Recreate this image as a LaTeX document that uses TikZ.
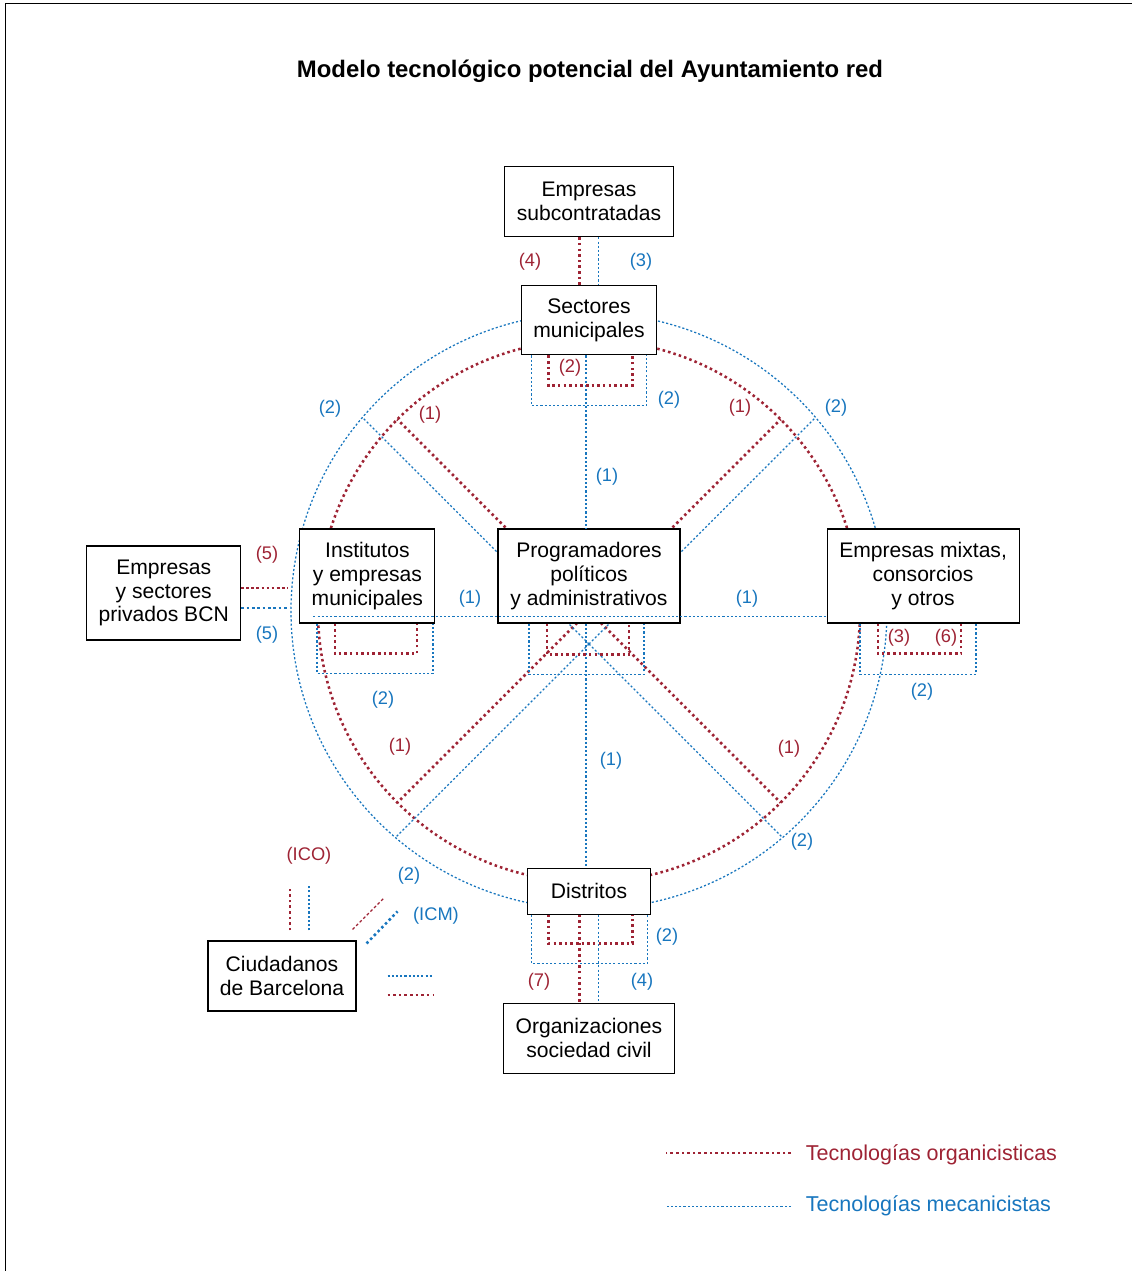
\documentclass[tikz,border=0pt]{standalone}
\usepackage{fontspec}
\setmainfont{Liberation Sans}
\usetikzlibrary{positioning}
\definecolor{rojo}{RGB}{158,35,52}
\definecolor{azul}{RGB}{24,118,190}

\begin{document}
\begin{tikzpicture}[
    caja/.style={draw, line width=0.8pt, fill=white, align=center, inner sep=2pt,
                 font=\fontsize{15}{17}\selectfont},
    org/.style={rojo, line width=1.8pt, dash pattern=on 1.8pt off 2.2pt},
    mec/.style={azul, line width=0.9pt, dash pattern=on 1.5pt off 1.5pt},
    orgfina/.style={rojo, line width=0.9pt, dash pattern=on 2pt off 1.6pt},
    mecgruesa/.style={azul, line width=1.8pt, dash pattern=on 1.8pt off 2pt},
    etqorg/.style={rojo, font=\fontsize{13}{15}\selectfont},
    etqmec/.style={azul, font=\fontsize{13}{15}\selectfont},
  ]
  \useasboundingbox (-14.725,-16.5) rectangle (13.55,15.275);
  % Cornice e titolo
  \draw[line width=0.7pt] (-14.6,-16.8) -- (-14.6,15.2) -- (13.8,15.2);
  \node[font=\bfseries\fontsize{17}{20}\selectfont] (titolo) at (0.025,13.5)
    {Modelo tecnológico potencial del Ayuntamiento red};

  % Cerchi e diagonali (sotto i riquadri)
  \coordinate (centro) at (0,0);
  \coordinate (centroazul) at (0,-0.825);
  \draw[mec] (centro) circle (7.45);
  \draw[org] (centro) circle (6.775);
  \draw[org] (centro) -- (45:6.775);
  \draw[org] (centro) -- (135:6.775);
  \draw[org] (centro) -- (225:6.775);
  \draw[org] (centro) -- (315:6.775);
  \draw[mec] (centroazul) -- (40.5:7.45);
  \draw[mec] (centroazul) -- (139.5:7.45);
  \draw[mec] (centroazul) -- (-49.5:7.45);
  \draw[mec] (centroazul) -- (-130.5:7.45);

  % Riquadri principali
  \node[caja, minimum width=4.55cm, minimum height=2.35cm] (prog) at (0,0.875)
    {Programadores\\políticos\\y administrativos};
  \node[caja, minimum width=3.375cm, minimum height=1.725cm, above=4.325cm of prog] (sect)
    {Sectores\\municipales};
  \node[caja, minimum width=4.225cm, minimum height=1.75cm, above=1.2cm of sect] (subc)
    {Empresas\\subcontratadas};
  \node[caja, minimum width=3.375cm, minimum height=2.35cm, left=1.55cm of prog] (inst)
    {Institutos\\y empresas\\municipales};
  \node[caja, minimum width=4.8cm, minimum height=2.35cm, right=3.65cm of prog] (mixt)
    {Empresas mixtas,\\consorcios\\y otros};
  \node[caja, minimum width=3.85cm, minimum height=2.35cm, left=1.45cm of inst, yshift=-0.425cm] (priv)
    {Empresas\\y sectores\\privados BCN};
  \node[caja, minimum width=3.075cm, minimum height=1.15cm, below=6.1cm of prog] (dist)
    {Distritos};
  \node[caja, minimum width=4.275cm, minimum height=1.75cm, below=2.2cm of dist] (osc)
    {Organizaciones\\sociedad civil};
  \node[caja, minimum width=3.7cm, minimum height=1.75cm] (ciud) at (-7.675,-9.125)
    {Ciudadanos\\de Barcelona};

  % Collegamenti verticali
  \draw[org] ([xshift=-0.24cm]subc.south) -- ([xshift=-0.24cm]sect.north);
  \draw[mec] ([xshift=0.24cm]subc.south) -- ([xshift=0.24cm]sect.north);
  \draw[mec] ([xshift=-0.075cm]sect.south) -- ([xshift=-0.075cm]prog.north);
  \draw[mec] ([xshift=-0.075cm]prog.south) -- ([xshift=-0.075cm]dist.north);
  \draw[org] ([xshift=-0.24cm]dist.south) -- ([xshift=-0.24cm]osc.north);
  \draw[mec] ([xshift=0.24cm]dist.south) -- ([xshift=0.24cm]osc.north);
  % Asse orizzontale (passa sopra i riquadri)
  \draw[mec] ([xshift=0.35cm, yshift=0.175cm]inst.south west) -- ([yshift=0.175cm]mixt.south west);

  % Anelli sotto i riquadri
  \draw[org] ([xshift=-1.01cm]sect.south) -- ++(0,-0.75) -| ([xshift=1.09cm]sect.south);
  \draw[mec] ([xshift=-1.44cm]sect.south) -- ++(0,-1.25) -| ([xshift=1.44cm]sect.south);
  \draw[org] ([xshift=-1.05cm]prog.south) -- ++(0,-0.78) -| ([xshift=1cm]prog.south);
  \draw[mec] ([xshift=-1.5cm]prog.south) -- ++(0,-1.27) -| ([xshift=1.375cm]prog.south);
  \draw[org] ([xshift=-0.81cm]inst.south) -- ++(0,-0.75) -| ([xshift=1.24cm]inst.south);
  \draw[mec] ([xshift=-1.26cm]inst.south) -- ++(0,-1.25) -| ([xshift=1.64cm]inst.south);
  \draw[org] ([xshift=-1.125cm]mixt.south) -- ++(0,-0.75) -| ([xshift=0.95cm]mixt.south);
  \draw[mec] ([xshift=-1.575cm]mixt.south) -- ++(0,-1.27) -| ([xshift=1.325cm]mixt.south);
  \draw[org] ([xshift=-1.01cm]dist.south) -- ++(0,-0.72) -| ([xshift=1.09cm]dist.south);
  \draw[mec] ([xshift=-1.44cm]dist.south) -- ++(0,-1.22) -| ([xshift=1.46cm]dist.south);

  % Empresas privados e ciudadanos
  \draw[orgfina] ([yshift=0.125cm]priv.east) -- ++(1.175,0);
  \draw[mecgruesa] ([yshift=-0.375cm]priv.east) -- ++(1.175,0);
  \draw[org] ([xshift=0.2cm, yshift=0.25cm]ciud.north) -- ++(0,1.1);
  \draw[mec] ([xshift=0.675cm, yshift=0.25cm]ciud.north) -- ++(0,1.1);
  \draw[orgfina] ([shift={(-0.1,0.275)}]ciud.north east) -- ++(0.8,0.8);
  \draw[mecgruesa] ([shift={(0.25,-0.075)}]ciud.north east) -- ++(0.775,0.8);
  \draw[mec] ([xshift=0.775cm]ciud.east) -- ++(1.15,0);
  \draw[org] ([shift={(0.775,-0.475)}]ciud.east) -- ++(1.15,0);

  % Etichette
  \node[etqorg] (e4) at (-1.475,8.725) {(4)};
  \node[etqmec] (e3) at (1.3,8.725) {(3)};
  \node[etqorg] (es2) at (-0.475,6.075) {(2)};
  \node[etqmec] (es2b) at (2.0,5.275) {(2)};
  \node[etqmec] (eno2) at (-6.475,5.05) {(2)};
  \node[etqorg] (eno1) at (-3.975,4.9) {(1)};
  \node[etqorg] (ene1) at (3.775,5.075) {(1)};
  \node[etqmec] (ene2) at (6.175,5.075) {(2)};
  \node[etqmec] (en1) at (0.45,3.35) {(1)};
  \node[etqorg] (ep5) at (-8.05,1.4) {(5)};
  \node[etqmec] (ep5b) at (-8.05,-0.6) {(5)};
  \node[etqmec] (eo1) at (-2.975,0.3) {(1)};
  \node[etqmec] (ee1) at (3.95,0.3) {(1)};
  \node[etqorg] (em3) at (7.75,-0.675) {(3)};
  \node[etqorg] (em6) at (8.925,-0.675) {(6)};
  \node[etqmec] (em2) at (8.325,-2.025) {(2)};
  \node[etqmec] (ei2) at (-5.15,-2.225) {(2)};
  \node[etqorg] (eso1) at (-4.725,-3.4) {(1)};
  \node[etqmec] (es1) at (0.55,-3.75) {(1)};
  \node[etqorg] (ese1) at (5.0,-3.45) {(1)};
  \node[etqmec] (ese2) at (5.325,-5.775) {(2)};
  \node[etqorg] (eico) at (-7.0,-6.125) {(ICO)};
  \node[etqmec] (eso2) at (-4.5,-6.625) {(2)};
  \node[etqmec] (eicm) at (-3.825,-7.625) {(ICM)};
  \node[etqmec] (ed2) at (1.95,-8.15) {(2)};
  \node[etqorg] (ed7) at (-1.25,-9.275) {(7)};
  \node[etqmec] (ed4) at (1.325,-9.275) {(4)};

  % Legenda
  \node[etqorg, font=\fontsize{15.3}{17}\selectfont, anchor=west] (legorg) at (5.3,-13.6)
    {Tecnologías organicisticas};
  \node[etqmec, font=\fontsize{15.3}{17}\selectfont, anchor=west] (legmec) at (5.3,-14.88)
    {Tecnologías mecanicistas};
  \draw[org] ([shift={(-0.25,0.05)}]legorg.west) -- ++(-3.125,0);
  \draw[mec] ([xshift=-0.25cm]legmec.west) -- ++(-3.125,0);
\end{tikzpicture}
\end{document}
